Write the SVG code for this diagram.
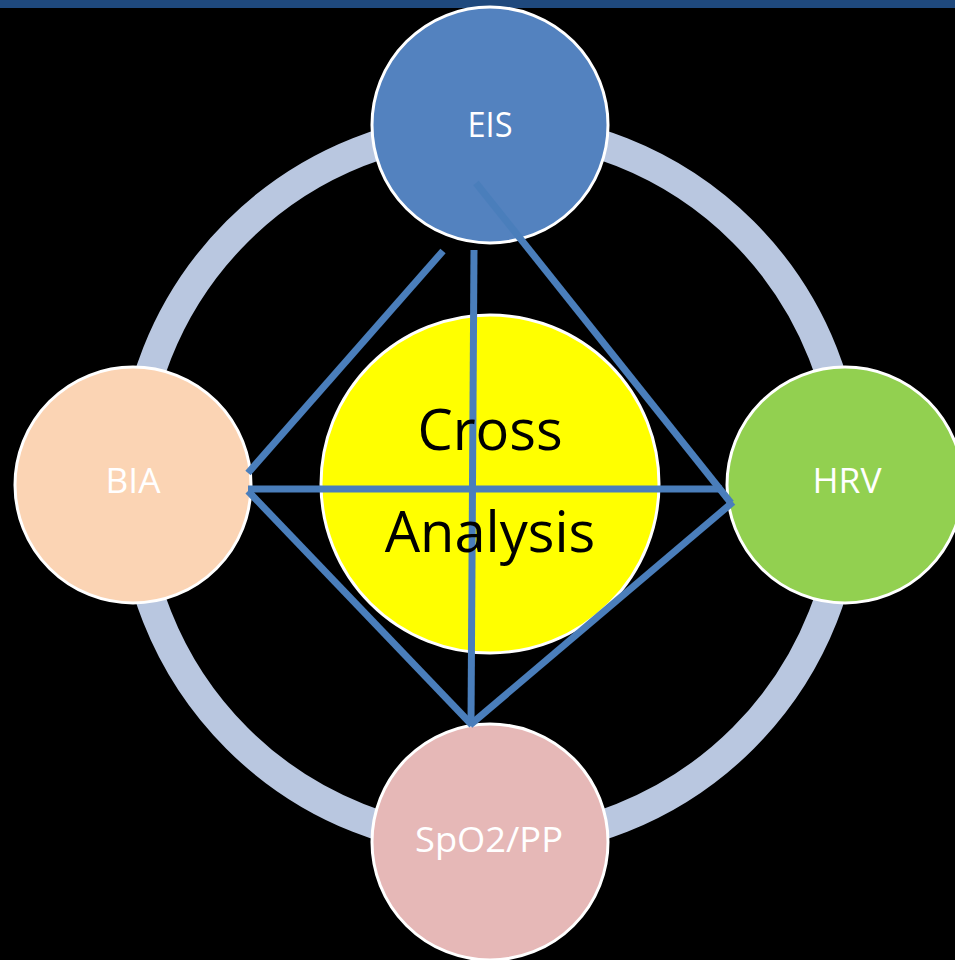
<svg xmlns="http://www.w3.org/2000/svg" width="955" height="960" viewBox="0 0 955 960">
<style>
.node{stroke:#fff;stroke-width:3}
.lbl{font-family:"Open Sans","Noto Sans","Liberation Sans",sans-serif;fill:#fff;text-anchor:middle;font-size:34px}
.big{font-family:"Open Sans","Noto Sans","Liberation Sans",sans-serif;fill:#000;text-anchor:middle;font-size:56px}
.conn{stroke:#4A7EBB;stroke-width:7;fill:none}
</style>
<rect x="0" y="0" width="955" height="960" fill="#000"/>
<rect x="0" y="0" width="955" height="8" fill="#1F497D"/>
<circle id="ring" cx="490" cy="485" r="358" fill="none" stroke="#B9C7E0" stroke-width="30"/>
<g id="center">
<circle class="node" cx="490" cy="484" r="169" fill="#FFFF00"/>
</g>
<g id="eis"><circle class="node" cx="490" cy="125" r="118" fill="#5382BF"/></g>
<g id="bia"><circle class="node" cx="133" cy="485" r="118" fill="#FBD4B4"/></g>
<g id="hrv"><circle class="node" cx="845" cy="485" r="118" fill="#92D050"/></g>
<g id="spo2"><circle class="node" cx="490" cy="842" r="118" fill="#E6B8B7"/></g>
<g id="connectors">
<line class="conn" x1="443" y1="251" x2="248" y2="473"/>
<line class="conn" x1="474" y1="250" x2="471" y2="722"/>
<line class="conn" x1="476" y1="183" x2="731" y2="503"/>
<line class="conn" x1="248" y1="489" x2="722" y2="489"/>
<line class="conn" x1="248" y1="491" x2="472" y2="725"/>
<line class="conn" x1="470" y1="725" x2="733" y2="502"/>
</g>
<g id="labels">
<text class="lbl" x="490" y="137" textLength="45" lengthAdjust="spacingAndGlyphs">EIS</text>
<text class="lbl" x="133" y="493" textLength="55" lengthAdjust="spacingAndGlyphs">BIA</text>
<text class="lbl" x="847" y="493" textLength="69" lengthAdjust="spacingAndGlyphs">HRV</text>
<text class="lbl" x="489" y="852" textLength="148" lengthAdjust="spacingAndGlyphs">SpO2/PP</text>
<text class="big" x="490" y="450">Cross</text>
<text class="big" x="490" y="552">Analysis</text>
</g>
</svg>
